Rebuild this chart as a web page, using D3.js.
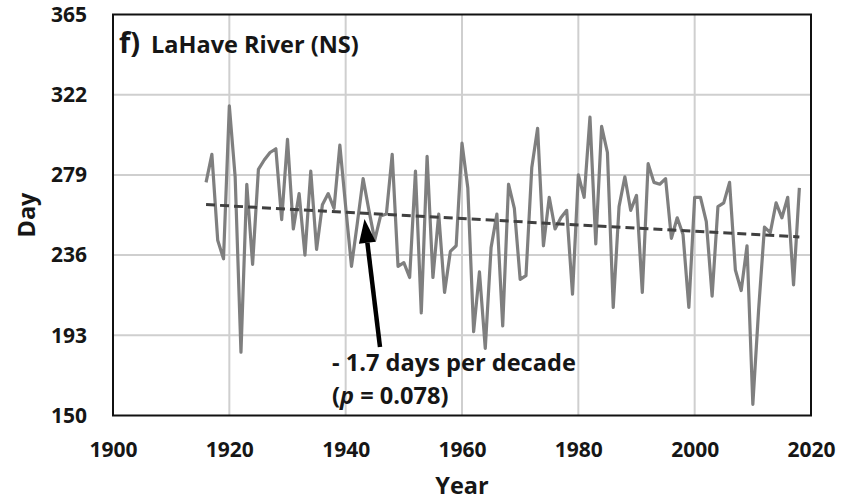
<!DOCTYPE html>
<html>
<head>
<meta charset="utf-8">
<script src="https://cdn.jsdelivr.net/npm/d3@7"></script>
<style>
  html, body { margin: 0; padding: 0; background: #fff; }
  svg { display: block; }
  text { font-family: "Open Sans", Lato, sans-serif; font-weight: bold; fill: #161616; }
</style>
</head>
<body>
<svg id="chart" width="853" height="501"></svg>
<script>
// Annual day-of-year series, LaHave River (NS)
const years = d3.range(1916, 2019);
const days = [
  275, 290, 244, 234, 316, 278, 184, 274, 231, 282,
  287, 291, 293, 255, 298, 250, 269, 236, 281, 239,
  263, 269, 261, 295, 262, 230, 253, 277, 260, 244,
  257, 258, 290, 230, 232, 224, 281, 205, 289, 224,
  258, 216, 238, 241, 296, 272, 195, 227, 186, 240,
  258, 198, 274, 261, 223, 225, 283, 304, 241, 267,
  250, 256, 260, 215, 279, 267, 310, 242, 305, 291,
  208, 262, 278, 260, 268, 216, 285, 275, 274, 277,
  245, 256, 247, 208, 267, 267, 254, 214, 262, 264,
  275, 228, 217, 241, 156, 207, 251, 248, 264, 256,
  267, 220, 272
];

// Linear trend: -1.7 days per decade
const trendSlope = -0.17;
const trendMid = { year: 1967, day: 254.4 };

const xTicks = [1900, 1920, 1940, 1960, 1980, 2000, 2020];
const yTicks = [150, 193, 236, 279, 322, 365];

const svg = d3.select("#chart");
const plot = { left: 113, top: 14.5, width: 698, height: 401 };

const x = d3.scaleLinear().domain([1900, 2020]).range([plot.left, plot.left + plot.width]);
const y = d3.scaleLinear().domain([150, 365]).range([plot.top + plot.height, plot.top]);

// grid
const grid = svg.append("g");
grid.selectAll("line.v").data(xTicks.slice(1, -1)).join("line")
  .attr("x1", d => x(d)).attr("x2", d => x(d))
  .attr("y1", y(365)).attr("y2", y(150))
  .attr("stroke", "#cfcfcf").attr("stroke-width", 2);
grid.selectAll("line.h").data(yTicks.slice(1, -1)).join("line")
  .attr("y1", d => y(d)).attr("y2", d => y(d))
  .attr("x1", x(1900)).attr("x2", x(2020))
  .attr("stroke", "#cfcfcf").attr("stroke-width", 2);

// axes (labels only; the frame is drawn as a box)
const styleTicks = g => g.selectAll("text")
  .attr("font-size", 21).attr("fill", "#161616")
  .style("font-family", "'Open Sans'").style("font-weight", "bold");

const xAxis = d3.axisBottom(x).tickValues(xTicks).tickFormat(d3.format("d")).tickSize(0).tickPadding(27);
const gx = svg.append("g").attr("transform", `translate(0,${y(150)})`).call(xAxis);
gx.select(".domain").remove();
styleTicks(gx);

const yAxis = d3.axisLeft(y).tickValues(yTicks).tickFormat(d3.format("d")).tickSize(0).tickPadding(26);
const gy = svg.append("g").attr("transform", `translate(${x(1900)},0)`).call(yAxis);
gy.select(".domain").remove();
styleTicks(gy);

// data line
const line = d3.line().x((d, i) => x(years[i])).y(d => y(d));
svg.append("path").datum(days)
  .attr("d", line)
  .attr("fill", "none").attr("stroke", "#7f7f7f").attr("stroke-width", 3.2)
  .attr("stroke-linejoin", "round");

// trend line
const tY = yr => trendMid.day + trendSlope * (yr - trendMid.year);
svg.append("line")
  .attr("x1", x(years[0])).attr("y1", y(tY(years[0])))
  .attr("x2", x(years[years.length - 1])).attr("y2", y(tY(years[years.length - 1])))
  .attr("stroke", "#404040").attr("stroke-width", 3).attr("stroke-dasharray", "9,5");

// frame
svg.append("rect")
  .attr("x", x(1900)).attr("y", y(365))
  .attr("width", x(2020) - x(1900)).attr("height", y(150) - y(365))
  .attr("fill", "none").attr("stroke", "#111").attr("stroke-width", 2);

// panel title
const title = svg.append("text").attr("x", 119).attr("y", 53);
title.append("tspan").attr("font-size", 29).text("f)");
title.append("tspan").attr("dx", 11).attr("font-size", 23.5).text("LaHave River (NS)");

// annotation arrow, pointing at the trend line
const tail = [380, 347], tip = [364.5, 219];
const dx = tip[0] - tail[0], dy = tip[1] - tail[1], len = Math.hypot(dx, dy);
const ux = dx / len, uy = dy / len, nx = -uy, ny = ux;
const headLen = 24, headHalf = 8.5;
const base = [tip[0] - headLen * ux, tip[1] - headLen * uy];
svg.append("line")
  .attr("x1", tail[0]).attr("y1", tail[1]).attr("x2", base[0]).attr("y2", base[1])
  .attr("stroke", "#000").attr("stroke-width", 4.5);
svg.append("path")
  .attr("d", `M${tip[0]},${tip[1]} L${base[0] + headHalf * nx},${base[1] + headHalf * ny} L${base[0] - headHalf * nx},${base[1] - headHalf * ny} Z`)
  .attr("fill", "#000");

svg.append("text").attr("x", 332).attr("y", 371).attr("font-size", 23.6)
  .text("- 1.7 days per decade");
const pt = svg.append("text").attr("x", 332).attr("y", 404).attr("font-size", 23.6);
pt.append("tspan").text("(");
pt.append("tspan").attr("font-style", "italic").text("p");
pt.append("tspan").text(" = 0.078)");

// axis titles
svg.append("text").attr("x", x(1960)).attr("y", 494).attr("text-anchor", "middle")
  .attr("font-size", 23.5).text("Year");
svg.append("text").attr("transform", `translate(35,${y(257.5)}) rotate(-90)`)
  .attr("text-anchor", "middle").attr("font-size", 23.5).text("Day");
</script>
</body>
</html>
